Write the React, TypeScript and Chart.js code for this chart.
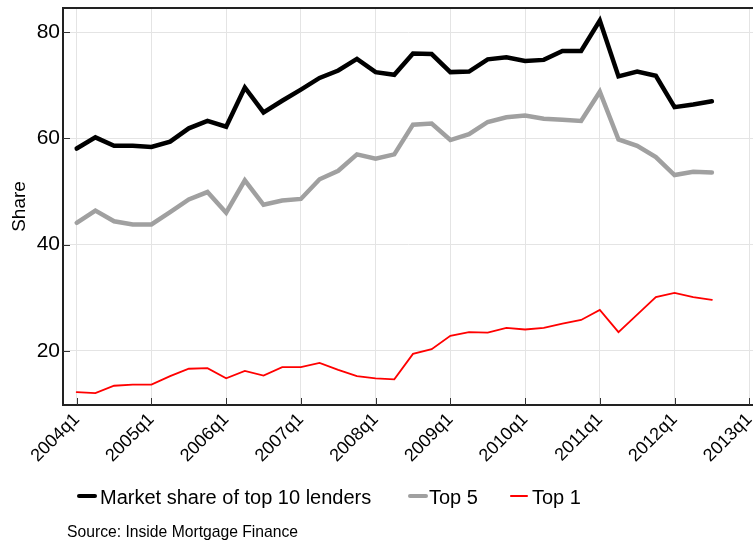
import React, { useEffect, useRef } from "react";
import { Chart, registerables } from "chart.js";

Chart.register(...registerables);

// Quarters covered by the data
const quarters = [
  "2004q1", "2004q2", "2004q3", "2004q4",
  "2005q1", "2005q2", "2005q3", "2005q4",
  "2006q1", "2006q2", "2006q3", "2006q4",
  "2007q1", "2007q2", "2007q3", "2007q4",
  "2008q1", "2008q2", "2008q3", "2008q4",
  "2009q1", "2009q2", "2009q3", "2009q4",
  "2010q1", "2010q2", "2010q3", "2010q4",
  "2011q1", "2011q2", "2011q3", "2011q4",
  "2012q1", "2012q2", "2012q3",
];

const top10 = [
  58.1, 60.2, 58.6, 58.6, 58.4, 59.4, 61.9, 63.3,
  62.2, 69.6, 64.9, 67.1, 69.2, 71.4, 72.8, 75.0,
  72.5, 72.0, 76.0, 75.9, 72.5, 72.6, 74.9, 75.3,
  74.6, 74.8, 76.5, 76.5, 82.2, 71.7, 72.6, 71.8,
  65.9, 66.4, 67.0,
];

const top5 = [
  44.1, 46.4, 44.4, 43.8, 43.8, 46.1, 48.5, 49.9,
  46.0, 52.1, 47.5, 48.3, 48.6, 52.3, 53.9, 57.0,
  56.2, 57.0, 62.6, 62.8, 59.7, 60.8, 63.1, 64.0,
  64.3, 63.7, 63.5, 63.3, 68.8, 59.8, 58.6, 56.5,
  53.1, 53.7, 53.6,
];

const top1 = [
  12.2, 12.0, 13.4, 13.6, 13.6, 15.2, 16.6, 16.7,
  14.8, 16.2, 15.3, 16.9, 16.9, 17.7, 16.4, 15.2,
  14.8, 14.6, 19.4, 20.3, 22.8, 23.5, 23.4, 24.3,
  24.0, 24.3, 25.1, 25.8, 27.7, 23.5, 26.8, 30.1,
  30.9, 30.1, 29.6,
];

const xTickLabels = [
  "2004q1", "2005q1", "2006q1", "2007q1", "2008q1",
  "2009q1", "2010q1", "2011q1", "2012q1", "2013q1",
];
const yTickValues = [20, 40, 60, 80];

const seriesNames = ["Market share of top 10 lenders", "Top 5", "Top 1"];
const seriesColors = ["#000000", "#a0a0a0", "#ff0000"];
const seriesWidths = [4.5, 4.5, 1.8];

const FONT = "'Liberation Sans', Arial, sans-serif";

function quarterIndex(label: string): number {
  const [y, q] = label.split("q");
  return (parseInt(y, 10) - 2004) * 4 + (parseInt(q, 10) - 1);
}
function indexLabel(v: number): string {
  const y = 2004 + Math.floor(v / 4);
  const q = (v % 4) + 1;
  return `${y}q${q}`;
}

function zeroPadding(scale: any) {
  scale.paddingLeft = 0;
  scale.paddingRight = 0;
  scale.paddingTop = 0;
  scale.paddingBottom = 0;
}

const framePlugin = {
  id: "frame",
  afterDraw(chart: any) {
    const { ctx, chartArea: a, scales } = chart;
    const x = scales.x;
    const y = scales.y;
    ctx.save();
    ctx.strokeStyle = "#333333";
    ctx.lineWidth = 1;
    ctx.beginPath();
    x.ticks.forEach((t: any) => {
      const px = Math.round(x.getPixelForValue(t.value)) + 0.5;
      ctx.moveTo(px, a.bottom);
      ctx.lineTo(px, a.bottom - 7);
    });
    y.ticks.forEach((t: any) => {
      const py = Math.round(y.getPixelForValue(t.value)) + 0.5;
      ctx.moveTo(a.left, py);
      ctx.lineTo(a.left + 7, py);
    });
    ctx.stroke();
    ctx.strokeStyle = "#222222";
    ctx.lineWidth = 2;
    ctx.beginPath();
    ctx.moveTo(a.left, a.top);
    ctx.lineTo(a.right, a.top);
    ctx.stroke();
    ctx.restore();
  },
};

export default function App() {
  const canvasRef = useRef<HTMLCanvasElement | null>(null);

  useEffect(() => {
    const canvas = canvasRef.current;
    if (!canvas) return;
    const series = [top10, top5, top1];
    const chart = new Chart(canvas, {
      type: "line",
      data: {
        datasets: series.map((vals, si) => ({
          label: seriesNames[si],
          data: vals.map((v, i) => ({ x: quarterIndex(quarters[i]), y: v })),
          borderColor: seriesColors[si],
          backgroundColor: seriesColors[si],
          borderWidth: seriesWidths[si],
          pointRadius: 0,
          tension: 0,
          borderCapStyle: "round",
          fill: false,
        })),
      },
      options: {
        animation: false,
        responsive: false,
        maintainAspectRatio: false,
        layout: { padding: { top: 8, right: 0, left: 0, bottom: 0 } },
        plugins: {
          legend: { display: false },
          tooltip: { enabled: false },
        },
        scales: {
          x: {
            type: "linear",
            min: -0.733,
            max: 36.2,
            afterBuildTicks: (scale: any) => {
              scale.ticks = xTickLabels.map((l) => ({ value: quarterIndex(l) }));
            },
            afterFit: (scale: any) => {
              scale.height = 137;
              zeroPadding(scale);
            },
            ticks: {
              autoSkip: false,
              maxRotation: 45,
              minRotation: 45,
              padding: 4,
              color: "#000000",
              font: { family: FONT, size: 18 },
              callback: (v: any) => indexLabel(Number(v)),
            },
            grid: { color: "#e4e4e4", lineWidth: 1, drawTicks: false },
            border: { display: true, color: "#222222", width: 2 },
          },
          y: {
            type: "linear",
            min: 9.77,
            max: 84.58,
            afterBuildTicks: (scale: any) => {
              scale.ticks = yTickValues.map((v) => ({ value: v }));
            },
            afterFit: (scale: any) => {
              scale.width = 63;
              zeroPadding(scale);
            },
            ticks: {
              padding: 3,
              color: "#000000",
              font: { family: FONT, size: 21 },
            },
            title: {
              display: true,
              text: "Share",
              color: "#000000",
              font: { family: FONT, size: 19 },
              padding: { top: 8, bottom: 0 },
            },
            grid: { color: "#e4e4e4", lineWidth: 1, drawTicks: false },
            border: { display: true, color: "#222222", width: 2 },
          },
        },
      },
      plugins: [framePlugin],
    } as any);
    return () => chart.destroy();
  }, []);

  const legendItems = [
    { sym: 77, w: 20, text: 100, h: 4.5 },
    { sym: 408, w: 20, text: 429, h: 4.5 },
    { sym: 510, w: 18, text: 532, h: 1.8 },
  ];

  return (
    <div
      style={{
        position: "fixed",
        left: 0,
        top: 0,
        width: 753,
        height: 542,
        background: "#ffffff",
        fontFamily: FONT,
      }}
    >
      <canvas
        ref={canvasRef}
        width={753}
        height={542}
        style={{ position: "absolute", left: 0, top: 0, width: 753, height: 542 }}
      />
      {legendItems.map((it, i) => (
        <React.Fragment key={i}>
          <div
            style={{
              position: "absolute",
              left: it.sym,
              top: 496 - it.h / 2,
              width: it.w,
              height: it.h,
              borderRadius: it.h / 2,
              background: seriesColors[i],
            }}
          />
          <div
            style={{
              position: "absolute",
              left: it.text,
              top: 487,
              fontSize: 20,
              lineHeight: "20px",
              color: "#000000",
              whiteSpace: "nowrap",
            }}
          >
            {seriesNames[i]}
          </div>
        </React.Fragment>
      ))}
      <div
        style={{
          position: "absolute",
          left: 67,
          top: 524,
          fontSize: 15.7,
          lineHeight: "16px",
          color: "#000000",
          whiteSpace: "nowrap",
        }}
      >
        Source: Inside Mortgage Finance
      </div>
    </div>
  );
}
